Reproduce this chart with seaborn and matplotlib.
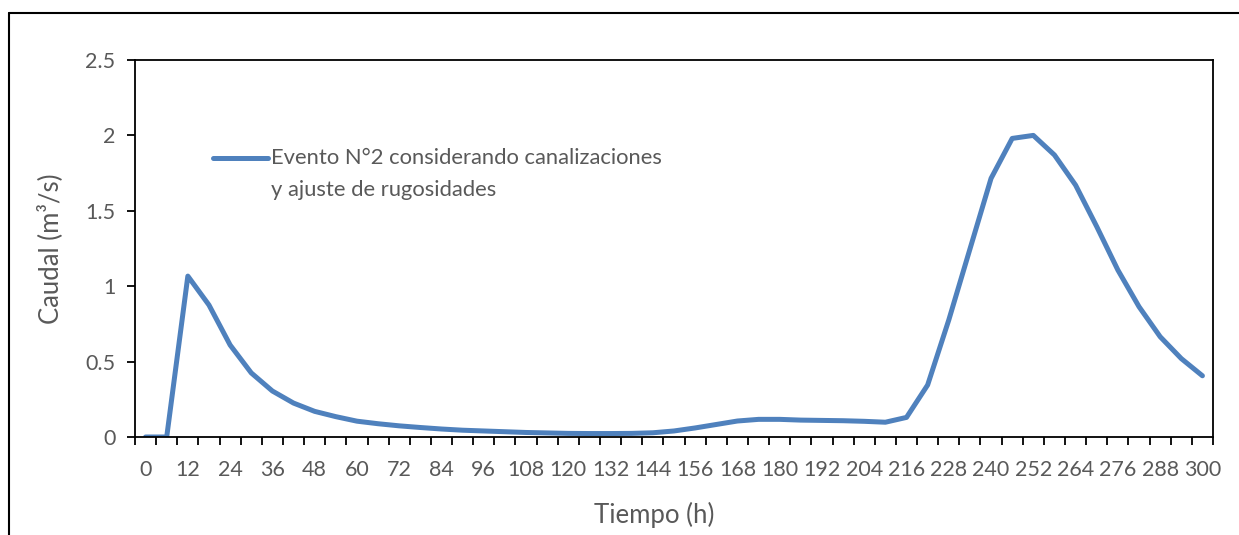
import numpy as np
import matplotlib
matplotlib.use("Agg")
import matplotlib.pyplot as plt
from matplotlib.lines import Line2D
import seaborn as sns

# hourly hydrograph, one value every 6 h
tiempo = [0, 6, 12, 18, 24, 30, 36, 42, 48, 54, 60, 66, 72, 78, 84, 90, 96,
          102, 108, 114, 120, 126, 132, 138, 144, 150, 156, 162, 168, 174,
          180, 186, 192, 198, 204, 210, 216, 222, 228, 234, 240, 246, 252,
          258, 264, 270, 276, 282, 288, 294, 300]
caudal = [0.0, 0.0, 1.067, 0.875, 0.61, 0.425, 0.305, 0.225, 0.17, 0.135,
          0.105, 0.088, 0.074, 0.063, 0.053, 0.045, 0.040, 0.035, 0.030,
          0.027, 0.024, 0.023, 0.023, 0.024, 0.028, 0.040, 0.060, 0.083,
          0.106, 0.117, 0.117, 0.112, 0.110, 0.108, 0.104, 0.098, 0.13,
          0.345, 0.776, 1.246, 1.715, 1.98, 2.0, 1.87, 1.67, 1.395, 1.107,
          0.864, 0.665, 0.52, 0.406]

x_labels = ["0", "12", "24", "36", "48", "60", "72", "84", "96", "108", "120",
            "132", "144", "156", "168", "180", "192", "204", "216", "228",
            "240", "252", "264", "276", "288", "300"]
y_ticks = [0, 0.5, 1, 1.5, 2, 2.5]
y_labels = ["0", "0.5", "1", "1.5", "2", "2.5"]

# leading blank line so the legend handle sits level with the first text line
serie = " \nEvento N°2 considerando canalizaciones\ny ajuste de rugosidades"

sns.set_style("white")
plt.rcParams["font.family"] = ["Lato", "DejaVu Sans"]
grey = "#595959"

fig = plt.figure(figsize=(12.39, 5.35), dpi=100)
ax = fig.add_axes([135 / 1239, 1 - 437 / 535, (1213 - 135) / 1239, (437 - 60) / 535])

sns.lineplot(x=tiempo, y=caudal, ax=ax, color="#4F81BD", linewidth=3.6,
             label=serie, solid_capstyle="round", solid_joinstyle="round")

ax.set_xlim(-3, 303)
ax.set_ylim(0, 2.5)
ax.set_xticks(tiempo[::2])
ax.set_xticklabels(x_labels)
ax.set_xticks(np.arange(-3, 304, 6), minor=True)
ax.set_yticks(y_ticks)
ax.set_yticklabels(y_labels)

ax.tick_params(axis="x", which="major", length=0, pad=16.5, labelsize=15.5, labelcolor=grey)
ax.tick_params(axis="x", which="minor", length=6, width=1.3, direction="out", color="black")
ax.tick_params(axis="y", which="major", length=6, width=1.3, direction="out",
               color="black", pad=8, labelsize=15.5, labelcolor=grey)
ax.tick_params(which="both", bottom=True, left=True)

for s in ax.spines.values():
    s.set_visible(True)
    s.set_color("black")
    s.set_linewidth(1.3)

ax.set_xlabel("Tiempo (h)", fontsize=18.5, color=grey)
ax.xaxis.set_label_coords(0.482, -0.172)
ax.set_ylabel("Caudal (m³/s)", fontsize=18.5, color=grey, labelpad=16)

leg = ax.legend(loc="center left", bbox_to_anchor=(213 / 1239, 1 - 158 / 535),
                bbox_transform=fig.transFigure, frameon=False, fontsize=15.8,
                handlelength=2.5, handletextpad=0.15, borderpad=0, borderaxespad=0,
                labelcolor=grey)
leg.get_texts()[0].set_linespacing(1.78)

# outer chart frame (cropped at bottom/right)
fig.add_artist(Line2D([9 / 1239, 9 / 1239], [0, 1 - 13 / 535], color="black", lw=1.5))
fig.add_artist(Line2D([9 / 1239, 1], [1 - 13 / 535, 1 - 13 / 535], color="black", lw=1.5))

fig.savefig("out.png", dpi=100)
